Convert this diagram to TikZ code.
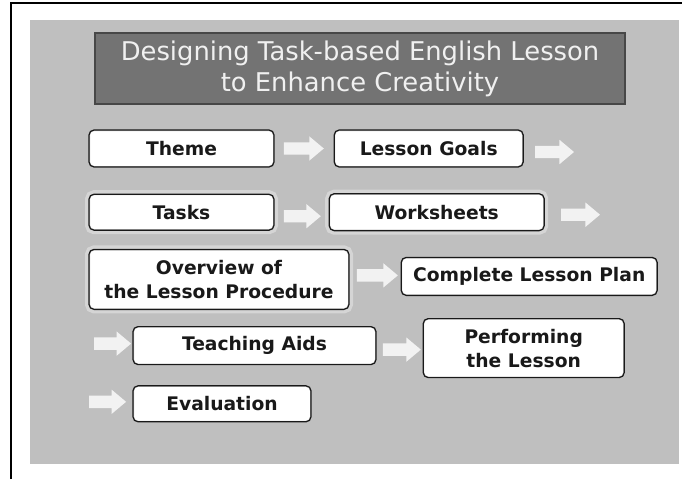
\documentclass[tikz,border=0pt]{standalone}
\usepackage{fontspec}
\setmainfont{DejaVu Sans}
\usetikzlibrary{positioning,shapes.arrows}

\begin{document}
\begin{tikzpicture}[x=1pt,y=-1pt,
         lbox/.style = {draw=black!90,line width=1.2pt,fill=white,rounded corners=5pt,
         inner sep=0pt,align=center,text=black!90,
         font=\bfseries\fontsize{18.7}{24}\selectfont,
         path picture={\draw[gray!55,line width=2pt,rounded corners=5pt,xshift=-1.6pt,yshift=1.6pt]
         (path picture bounding box.south west) rectangle (path picture bounding box.north east);}},
         glow/.style = {preaction={draw=white,opacity=0.35,line width=8pt}},
         blk/.style = {single arrow,fill=black!5,draw=none,inner xsep=0pt,inner ysep=6pt,
         minimum height=#1,minimum width=24pt,single arrow head extend=6pt,
         single arrow head indent=0pt,single arrow tip angle=80}
]
         \useasboundingbox (0,0) rectangle (682,479);
         \fill[black!25] (30,20) rectangle (679,464);
         \draw[line width=2pt] (11,479) -- (11,3) -- (682,3);

         \node[draw=black!72,line width=1.5pt,fill=black!55,text=black!6,align=center,
            minimum width=530pt,minimum height=71pt,font=\fontsize{25.8}{31}\selectfont]
            (t0) at (360,68.5) {Designing Task-based English Lesson\\to Enhance Creativity};

         \node[lbox,minimum width=185pt,minimum height=37pt] (b1) at (181.5,148.5) {Theme};
         \node[lbox,minimum width=189pt,minimum height=37pt,right=59pt of b1] (b2) {Lesson Goals};
         \node[lbox,glow,minimum width=185pt,minimum height=36pt,below=26pt of b1] (b3) {Tasks};
         \node[lbox,glow,minimum width=215pt,minimum height=37pt,right=54pt of b3] (b4) {Worksheets};
         \node[lbox,glow,minimum width=260pt,minimum height=60pt,
            below right=18pt and 0pt of b3.south west] (b5) {Overview of\\the Lesson Procedure};
         \node[lbox,minimum width=256pt,minimum height=38pt,right=51pt of b5,yshift=3pt] (b6) {Complete Lesson Plan};
         \node[lbox,minimum width=243pt,minimum height=38pt,
            below right=16pt and 44pt of b5.south west] (b7) {Teaching Aids};
         \node[lbox,minimum width=201pt,minimum height=59pt,right=46pt of b7,yshift=-2.5pt] (b8) {Performing\\the Lesson};
         \node[lbox,minimum width=178pt,minimum height=36pt,
            below right=20pt and 0pt of b7.south west] (b9) {Evaluation};

         \node[blk=40pt,right=9pt of b1] (a1) {};
         \node[blk=39pt,right=11pt of b2,yshift=-3.5pt] (a2) {};
         \node[blk=37pt,right=9pt of b3,yshift=-4pt] (a3) {};
         \node[blk=39pt,right=16pt of b4,yshift=-2.5pt] (a4) {};
         \node[blk=41pt,right=7pt of b5,yshift=4pt] (a5) {};
         \node[blk=37pt,left=1pt of b7,yshift=2pt] (a6) {};
         \node[blk=38pt,right=6pt of b7,yshift=-4pt] (a7) {};
         \node[blk=37pt,left=6pt of b9,yshift=2pt] (a8) {};
\end{tikzpicture}
\end{document}
